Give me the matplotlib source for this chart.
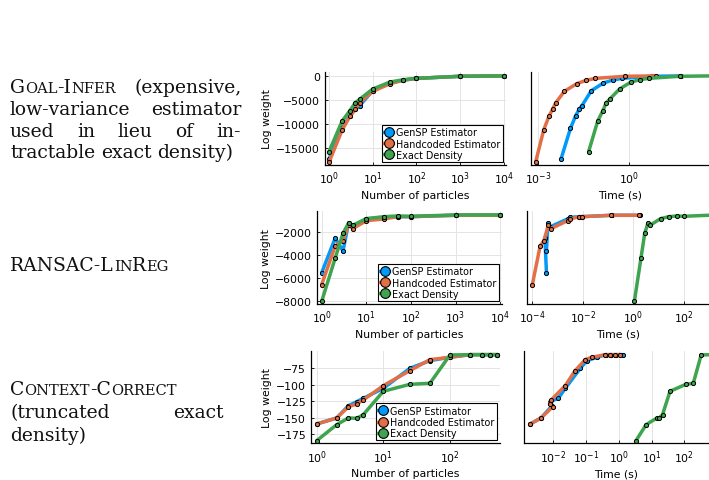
import numpy as np
import matplotlib
matplotlib.use('Agg')
import matplotlib.pyplot as plt
from matplotlib.lines import Line2D
from matplotlib.ticker import FixedLocator, NullLocator

# ---------------- data ----------------
series_names = ['GenSP Estimator', 'Handcoded Estimator', 'Exact Density']

particles = [1, 2, 3, 4, 5, 10, 25, 50, 100, 1000, 10000]
particles_cc = [1, 2, 3, 4, 5, 10, 25, 50, 100, 200, 300, 400, 500]

# Goal-Infer
gi_gensp = [-17200, -10900, -8300, -6900, -6200, -3100, -1500, -900, -550, -120, -40]
gi_hand = [-17900, -11200, -8400, -6950, -5650, -3230, -1650, -950, -550, -120, -40]
gi_exact = [-15700, -9360, -7230, -5580, -4880, -2750, -1300, -830, -540, -120, -40]
gi_gensp_t = [5.62e-3, 1.15e-2, 1.70e-2, 2.24e-2, 2.75e-2, 5.62e-2, 0.141, 0.288, 0.562, 5.62, 50.1]
gi_hand_t = [8.13e-4, 1.51e-3, 2.24e-3, 2.95e-3, 3.72e-3, 7.24e-3, 1.86e-2, 3.80e-2, 7.59e-2, 0.724, 7.41]
gi_exact_t = [0.0457, 0.0912, 0.135, 0.174, 0.224, 0.479, 1.15, 2.24, 4.47, 46.8, 501]

# RANSAC-LinReg
rl_gensp = [-5510, -2520, -3620, -1190, -1510, -840, -700, -640, -640, -520, -520]
rl_hand = [-6550, -3190, -2720, -1330, -1680, -990, -840, -640, -640, -520, -520]
rl_exact = [-8000, -4260, -2090, -1190, -1390, -810, -640, -580, -610, -490, -490]
rl_gensp_t = [3.63e-4, 3.16e-4, 3.63e-4, 4.17e-4, 5.25e-4, 2.51e-3, 3.16e-3, 7.41e-3, 9.55e-3, 0.141, 1.82]
rl_hand_t = [1.0e-4, 2.04e-4, 2.88e-4, 4.37e-4, 5.50e-4, 2.51e-3, 3.16e-3, 7.41e-3, 9.55e-3, 0.138, 1.78]
rl_exact_t = [1.12, 2.04, 2.88, 3.89, 4.68, 12.3, 26.3, 55.0, 100.0, 1995.0, 19950.0]

# Context-Correct
cc_gensp = [-159.8, -150.6, -131.9, -125.8, -120.7, -105.5, -75.0, -63.3, -58.2, -54.2, -54.2, -54.2, -54.2]
cc_hand = [-159.8, -150.6, -133.4, -129.3, -123.2, -101.4, -78.6, -61.8, -58.2, -54.2, -54.2, -54.2, -54.2]
cc_exact = [-185.2, -160.8, -150.6, -151.1, -145.6, -110.0, -99.4, -97.8, -54.7, -54.2, -54.2, -54.2, -54.2]
cc_gensp_t = [1.95e-3, 4.17e-3, 9.12e-3, 7.94e-3, 1.41e-2, 2.29e-2, 6.61e-2, 0.105, 0.214, 0.398, 0.562, 0.794, 1.32]
cc_hand_t = [1.95e-3, 4.17e-3, 9.55e-3, 7.59e-3, 8.51e-3, 2.29e-2, 4.57e-2, 9.33e-2, 0.148, 0.380, 0.537, 0.759, 1.10]
cc_exact_t = [3.31, 6.76, 14.5, 16.6, 21.4, 36.3, 110.0, 186.0, 324.0, 631.0, 891.0, 1122.0, 1413.0]

# ---------------- figure ----------------
W, H = 709, 481
fig = plt.figure(figsize=(W / 100, H / 100), dpi=100)
colors = ['#009AFA', '#E36F47', '#3EA44E']
SERIF = 'DejaVu Serif'
TICK_FS = 7.8


def add_px_axes(l, t, r, b):
    return fig.add_axes([l / W, 1 - b / H, (r - l) / W, (b - t) / H])


def style(ax, xticks, yticks=None):
    ax.set_xscale('log')
    for s in ['top', 'right']:
        ax.spines[s].set_visible(False)
    for s in ['left', 'bottom']:
        ax.spines[s].set_linewidth(0.9)
    ax.xaxis.set_major_locator(FixedLocator(xticks))
    ax.xaxis.set_minor_locator(NullLocator())
    ax.tick_params(axis='both', which='major', direction='in', length=2.5,
                   width=0.6, labelsize=TICK_FS, pad=3.5)
    ax.grid(True, which='major', color='#e4e4e4', lw=0.7)
    ax.set_axisbelow(True)
    if yticks is None:
        ax.tick_params(axis='y', left=False, labelleft=False)
        ax.yaxis.grid(False)
    else:
        ax.yaxis.set_major_locator(FixedLocator(yticks))


def draw_series(ax, xs, ys):
    for x, y, c in zip(xs, ys, colors):
        ax.plot(x, y, color=c, lw=2.5, marker='o', ms=3.0, mfc=c, mec='black',
                mew=0.7, solid_joinstyle='round', solid_capstyle='round')


def add_legend(ax):
    handles = [Line2D([0], [0], color=c, lw=2.4, marker='o', ms=7, mfc=c,
                      mec='black', mew=0.8) for c in colors]
    leg = ax.legend(handles, series_names, loc='lower right', fontsize=6.9,
                    frameon=True, fancybox=False, edgecolor='black',
                    handlelength=1.0, handletextpad=0.3, borderpad=0.25,
                    labelspacing=0.12, borderaxespad=0.3, framealpha=1)
    leg.get_frame().set_linewidth(0.8)


rows = [
    dict(lx=(325, 506), rx=(531, 709), tb=(73, 166),
         xl=(10 ** -0.091, 10 ** 4.046), xr=(10 ** -3.24, 10 ** 2.63),
         yl=(-18450, 765),
         xt_l=[1, 10, 100, 1000, 10000], xt_r=[1e-3, 1e0],
         yt=[0, -5000, -10000, -15000],
         px=particles, ys=[gi_gensp, gi_hand, gi_exact],
         ts=[gi_gensp_t, gi_hand_t, gi_exact_t]),
    dict(lx=(316.7, 502), rx=(527.3, 709), tb=(212.3, 305),
         xl=(10 ** -0.112, 10 ** 4.04), xr=(10 ** -4.2, 10 ** 3.01),
         yl=(-8235, -174),
         xt_l=[1, 10, 100, 1000, 10000], xt_r=[1e-4, 1e-2, 1e0, 1e2],
         yt=[-2000, -4000, -6000, -8000],
         px=particles, ys=[rl_gensp, rl_hand, rl_exact],
         ts=[rl_gensp_t, rl_hand_t, rl_exact_t]),
    dict(lx=(311, 500), rx=(524, 709), tb=(352.3, 444.3),
         xl=(10 ** -0.085, 10 ** 2.75), xr=(10 ** -2.9, 10 ** 2.75),
         yl=(-189.2, -49.1),
         xt_l=[1, 10, 100], xt_r=[1e-2, 1e-1, 1e0, 1e1, 1e2],
         yt=[-75, -100, -125, -150, -175],
         px=particles_cc, ys=[cc_gensp, cc_hand, cc_exact],
         ts=[cc_gensp_t, cc_hand_t, cc_exact_t]),
]

for r in rows:
    t, b = r['tb']
    axl = add_px_axes(r['lx'][0], t, r['lx'][1], b)
    style(axl, r['xt_l'], r['yt'])
    draw_series(axl, [r['px']] * 3, r['ys'])
    axl.set_xlim(*r['xl'])
    axl.set_ylim(*r['yl'])
    axl.set_xlabel('Number of particles', fontsize=TICK_FS, labelpad=2.5)
    axl.set_ylabel('Log weight', fontsize=TICK_FS, labelpad=3)
    add_legend(axl)

    axr = add_px_axes(r['rx'][0], t, r['rx'][1], b)
    style(axr, r['xt_r'])
    draw_series(axr, r['ts'], r['ys'])
    axr.set_xlim(*r['xr'])
    axr.set_ylim(*r['yl'])
    axr.set_xlabel('Time (s)', fontsize=TICK_FS, labelpad=2.5)

# ---------------- left-hand descriptive text ----------------
renderer = fig.canvas.get_renderer()
SC = 0.78
FS = 10.0


def seg_text(x, y, txt, small, fs=None):
    fs = FS if fs is None else fs
    return fig.text(x / W, 1 - y / H, txt, fontsize=fs * (SC if small else 1.0),
                    family=SERIF, va='baseline', ha='left', color='#111111')


def measure(segs, fs=None):
    w = 0
    for txt, small in segs:
        tt = seg_text(0, 0, txt, small, fs)
        w += tt.get_window_extent(renderer).width
        tt.remove()
    return w


# body size chosen so the unjustified line has roughly its reference width
_probe = measure([('tractable exact density)', False)], 10.0)
FS = 10.0 * 226.0 / _probe


def place_word(x, y, segs):
    for txt, small in segs:
        tt = seg_text(x, y, txt, small)
        x += tt.get_window_extent(renderer).width
    return x


_a = seg_text(0, 0, 'a a', False); _b = seg_text(0, 0, 'aa', False)
SPACE = _a.get_window_extent(renderer).width - _b.get_window_extent(renderer).width
_a.remove(); _b.remove()


def text_line(y, words, x0=10, x1=None):
    words = [[(w, False)] if isinstance(w, str) else w for w in words]
    widths = [measure(w) for w in words]
    if x1 is not None and len(words) > 1:
        gap = (x1 - x0 - sum(widths)) / (len(words) - 1)
    else:
        gap = SPACE
    x = x0
    for w, wd in zip(words, widths):
        place_word(x, y, w)
        x += wd + gap


goal_infer = [('G', False), ('OAL', True), ('-I', False), ('NFER', True)]
text_line(93.3, [goal_infer, '(expensive,'], x1=242)
text_line(115.0, ['low-variance', 'estimator'], x1=241)
text_line(136.7, ['used', 'in', 'lieu', 'of', 'in-'], x1=241)
text_line(158.3, ['tractable', 'exact', 'density)'])

ransac = [('RANSAC-L', False), ('IN', True), ('R', False), ('EG', True)]
text_line(271.0, [ransac])

context = [('C', False), ('ONTEXT', True), ('-C', False), ('ORRECT', True)]
text_line(395.0, [context])
text_line(418.3, ['(truncated', 'exact'], x1=224)
text_line(441.0, ['density)'])

fig.savefig('out.png', dpi=100)
